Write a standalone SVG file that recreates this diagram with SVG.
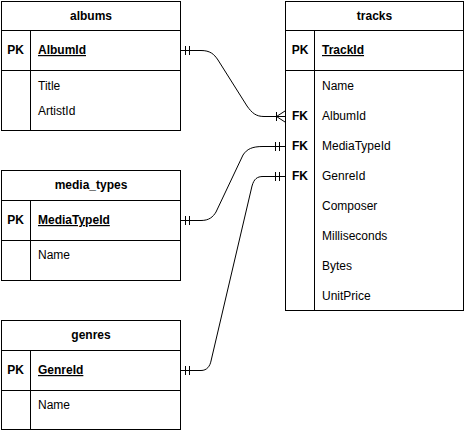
<svg xmlns="http://www.w3.org/2000/svg" width="465" height="431" viewBox="0 0 465 431">
<style>
rect.box{fill:#fff;stroke:#000;stroke-width:1}
line.sep{stroke:#000;stroke-width:1}
text{font-family:"Liberation Sans",Arial,Helvetica,sans-serif;font-size:12px;fill:#000}
.h{font-weight:bold;text-anchor:middle}
.k{font-weight:bold;text-anchor:middle}
.pk{font-weight:bold;text-decoration:underline}
.edge{fill:none;stroke:#000;stroke-width:1}
</style>
<rect x="0" y="0" width="465" height="431" fill="#fff"/>
<g id="albums">
<rect class="box" x="1.5" y="1.5" width="179" height="129"/>
<line class="sep" x1="1.5" y1="30.5" x2="180.5" y2="30.5"/>
<line class="sep" x1="1.5" y1="70.5" x2="180.5" y2="70.5"/>
<line class="sep" x1="30.5" y1="30.5" x2="30.5" y2="130.5"/>
<text class="h" x="91" y="20">albums</text>
<text class="k" x="15.5" y="54">PK</text>
<text class="pk" x="38" y="54">AlbumId</text>
<text x="38" y="90">Title</text>
<text x="38" y="115">ArtistId</text>
</g>
<g id="tracks">
<rect class="box" x="285.5" y="1.5" width="178" height="309"/>
<line class="sep" x1="285.5" y1="30.5" x2="463.5" y2="30.5"/>
<line class="sep" x1="285.5" y1="70.5" x2="463.5" y2="70.5"/>
<line class="sep" x1="314.5" y1="30.5" x2="314.5" y2="310.5"/>
<text class="h" x="374.5" y="20">tracks</text>
<text class="k" x="300" y="54">PK</text>
<text class="pk" x="322" y="54">TrackId</text>
<text x="322" y="90">Name</text>
<text class="k" x="300" y="120">FK</text>
<text x="322" y="120">AlbumId</text>
<text class="k" x="300" y="150">FK</text>
<text x="322" y="150">MediaTypeId</text>
<text class="k" x="300" y="180">FK</text>
<text x="322" y="180">GenreId</text>
<text x="322" y="210">Composer</text>
<text x="322" y="240">Milliseconds</text>
<text x="322" y="270">Bytes</text>
<text x="322" y="300">UnitPrice</text>
</g>
<g id="media_types">
<rect class="box" x="1.5" y="170.5" width="179" height="110"/>
<line class="sep" x1="1.5" y1="200.5" x2="180.5" y2="200.5"/>
<line class="sep" x1="1.5" y1="240.5" x2="180.5" y2="240.5"/>
<line class="sep" x1="30.5" y1="200.5" x2="30.5" y2="280.5"/>
<text class="h" x="91" y="189">media_types</text>
<text class="k" x="15.5" y="224">PK</text>
<text class="pk" x="38" y="224">MediaTypeId</text>
<text x="38" y="259">Name</text>
</g>
<g id="genres">
<rect class="box" x="1.5" y="320.5" width="179" height="109"/>
<line class="sep" x1="1.5" y1="350.5" x2="180.5" y2="350.5"/>
<line class="sep" x1="1.5" y1="390.5" x2="180.5" y2="390.5"/>
<line class="sep" x1="30.5" y1="350.5" x2="30.5" y2="429.5"/>
<text class="h" x="91" y="339">genres</text>
<text class="k" x="15.5" y="374">PK</text>
<text class="pk" x="38" y="374">GenreId</text>
<text x="38" y="409">Name</text>
</g>
<g id="connectors">
<path class="edge" d="M181,50.5 H201 C210,50.5 214,54 218,60 L247,106 C252,113 256,116.5 264,116.5 H285"/>
<path class="edge" d="M185.5,46 V55 M189.5,46 V55"/>
<path class="edge" d="M276.5,112 V121 M276.5,116.5 L285,111 M276.5,116.5 L285,122"/>
<path class="edge" d="M181,220.5 H201 C209,220.5 213,217 216,212 L243,155 C247,149 252,146.5 263,146.5 H285"/>
<path class="edge" d="M185.5,216 V225 M189.5,216 V225"/>
<path class="edge" d="M275.5,142 V151 M279.5,142 V151"/>
<path class="edge" d="M181,370.5 H201 C207,370.5 210,366 211,361 L252,186 C254,179 257,176.5 263,176.5 H285"/>
<path class="edge" d="M185.5,366 V375 M189.5,366 V375"/>
<path class="edge" d="M275.5,172 V181 M279.5,172 V181"/>
</g>
</svg>
